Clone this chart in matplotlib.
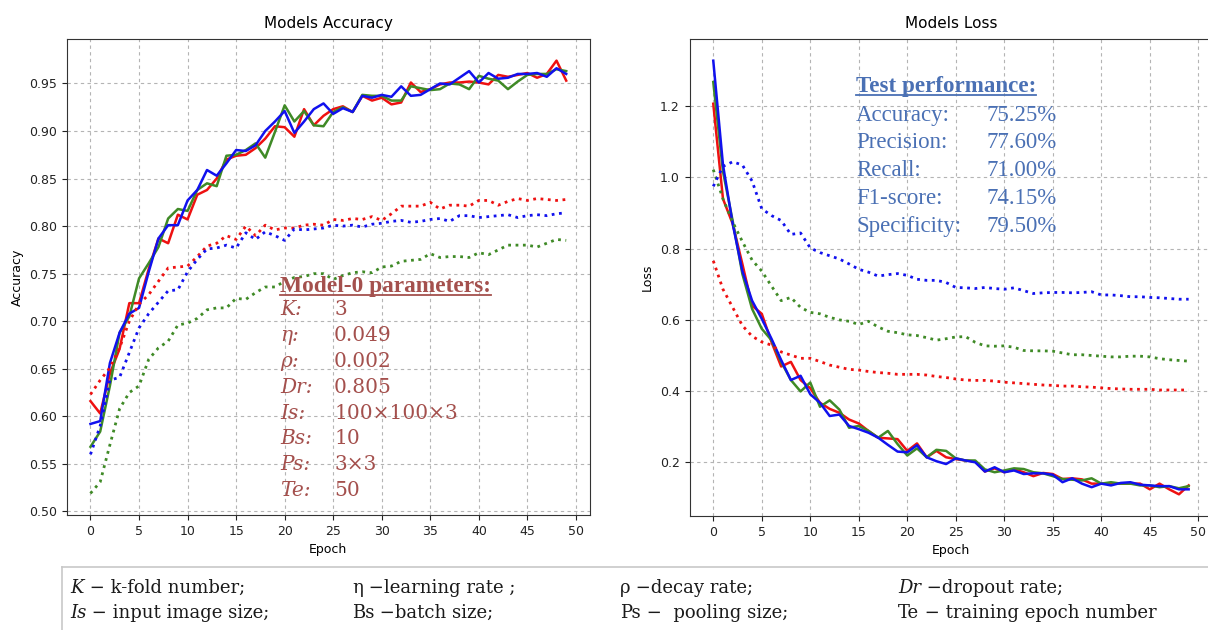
import numpy as np
import matplotlib
matplotlib.use("Agg")
import matplotlib.pyplot as plt
from matplotlib.lines import Line2D

W, H = 1208, 630

epochs = np.arange(50)

# training accuracy (solid) / validation accuracy (dotted)
acc_red = [0.616, 0.603, 0.645, 0.671, 0.719, 0.719, 0.755, 0.787, 0.782, 0.812,
           0.807, 0.833, 0.838, 0.850, 0.870, 0.874, 0.875, 0.882, 0.892, 0.905,
           0.904, 0.894, 0.923, 0.906, 0.916, 0.923, 0.926, 0.920, 0.937, 0.932,
           0.935, 0.928, 0.930, 0.951, 0.941, 0.944, 0.949, 0.951, 0.951, 0.952,
           0.951, 0.949, 0.959, 0.957, 0.959, 0.961, 0.956, 0.960, 0.974, 0.953]
acc_green = [0.568, 0.584, 0.632, 0.688, 0.705, 0.745, 0.761, 0.778, 0.808, 0.818,
             0.816, 0.838, 0.845, 0.842, 0.874, 0.875, 0.880, 0.887, 0.872, 0.899,
             0.927, 0.910, 0.921, 0.906, 0.905, 0.920, 0.925, 0.920, 0.938, 0.937,
             0.937, 0.932, 0.932, 0.947, 0.945, 0.943, 0.944, 0.950, 0.949, 0.944,
             0.958, 0.955, 0.953, 0.944, 0.952, 0.959, 0.960, 0.960, 0.965, 0.963]
acc_blue = [0.592, 0.595, 0.656, 0.688, 0.708, 0.714, 0.752, 0.787, 0.801, 0.801,
            0.827, 0.838, 0.859, 0.853, 0.866, 0.880, 0.879, 0.885, 0.900, 0.910,
            0.921, 0.898, 0.910, 0.923, 0.929, 0.918, 0.924, 0.920, 0.937, 0.935,
            0.938, 0.936, 0.947, 0.937, 0.938, 0.944, 0.950, 0.949, 0.956, 0.963,
            0.951, 0.961, 0.955, 0.956, 0.960, 0.960, 0.961, 0.957, 0.966, 0.960]
val_acc_red = [0.623, 0.638, 0.651, 0.672, 0.700, 0.718, 0.728, 0.742, 0.756, 0.757,
               0.758, 0.768, 0.779, 0.782, 0.790, 0.786, 0.800, 0.790, 0.801, 0.796,
               0.798, 0.798, 0.801, 0.802, 0.801, 0.807, 0.806, 0.808, 0.807, 0.810,
               0.806, 0.813, 0.821, 0.821, 0.821, 0.825, 0.818, 0.822, 0.822, 0.821,
               0.827, 0.827, 0.822, 0.826, 0.829, 0.827, 0.829, 0.828, 0.827, 0.828]
val_acc_green = [0.519, 0.531, 0.570, 0.608, 0.625, 0.632, 0.660, 0.672, 0.679, 0.696,
                 0.698, 0.703, 0.712, 0.714, 0.714, 0.724, 0.723, 0.730, 0.736, 0.736,
                 0.742, 0.746, 0.747, 0.750, 0.750, 0.744, 0.748, 0.751, 0.752, 0.751,
                 0.757, 0.758, 0.763, 0.764, 0.765, 0.771, 0.767, 0.768, 0.768, 0.767,
                 0.772, 0.770, 0.775, 0.780, 0.780, 0.780, 0.778, 0.782, 0.786, 0.785]
val_acc_blue = [0.560, 0.590, 0.638, 0.641, 0.667, 0.693, 0.708, 0.720, 0.732, 0.733,
                0.752, 0.765, 0.776, 0.777, 0.780, 0.777, 0.793, 0.786, 0.794, 0.790,
                0.785, 0.797, 0.796, 0.797, 0.798, 0.801, 0.800, 0.801, 0.799, 0.802,
                0.803, 0.805, 0.806, 0.804, 0.805, 0.807, 0.808, 0.805, 0.811, 0.811,
                0.809, 0.810, 0.811, 0.812, 0.809, 0.811, 0.812, 0.811, 0.813, 0.814]

# training loss (solid) / validation loss (dotted)
loss_red = [1.207, 0.940, 0.870, 0.757, 0.640, 0.617, 0.538, 0.469, 0.482, 0.431,
            0.408, 0.367, 0.350, 0.339, 0.320, 0.309, 0.288, 0.269, 0.267, 0.265,
            0.232, 0.253, 0.214, 0.232, 0.214, 0.209, 0.205, 0.202, 0.174, 0.183,
            0.172, 0.180, 0.172, 0.161, 0.170, 0.167, 0.153, 0.155, 0.152, 0.140,
            0.140, 0.140, 0.140, 0.140, 0.140, 0.124, 0.140, 0.124, 0.110, 0.135]
loss_green = [1.268, 1.017, 0.878, 0.729, 0.631, 0.575, 0.543, 0.482, 0.431, 0.399,
              0.424, 0.356, 0.374, 0.348, 0.297, 0.302, 0.288, 0.269, 0.288, 0.251,
              0.219, 0.239, 0.214, 0.235, 0.232, 0.211, 0.205, 0.205, 0.180, 0.172,
              0.177, 0.183, 0.181, 0.172, 0.169, 0.161, 0.153, 0.151, 0.149, 0.155,
              0.140, 0.144, 0.140, 0.140, 0.135, 0.135, 0.130, 0.133, 0.127, 0.133]
loss_blue = [1.328, 1.036, 0.870, 0.737, 0.654, 0.603, 0.547, 0.487, 0.431, 0.443,
             0.391, 0.367, 0.330, 0.334, 0.302, 0.293, 0.283, 0.269, 0.249, 0.230,
             0.228, 0.248, 0.214, 0.203, 0.195, 0.211, 0.205, 0.200, 0.174, 0.186,
             0.172, 0.177, 0.167, 0.169, 0.169, 0.165, 0.144, 0.155, 0.140, 0.130,
             0.140, 0.135, 0.142, 0.144, 0.137, 0.135, 0.133, 0.133, 0.124, 0.124]
val_loss_red = [0.766, 0.686, 0.635, 0.584, 0.554, 0.538, 0.529, 0.510, 0.501, 0.492,
                0.492, 0.483, 0.473, 0.467, 0.461, 0.459, 0.455, 0.452, 0.450, 0.447,
                0.447, 0.447, 0.445, 0.441, 0.438, 0.434, 0.431, 0.430, 0.430, 0.428,
                0.425, 0.423, 0.421, 0.419, 0.417, 0.416, 0.414, 0.414, 0.412, 0.411,
                0.409, 0.407, 0.406, 0.405, 0.405, 0.405, 0.403, 0.403, 0.403, 0.403]
val_loss_green = [1.022, 0.940, 0.875, 0.820, 0.768, 0.737, 0.695, 0.654, 0.663, 0.635,
                  0.621, 0.617, 0.607, 0.600, 0.596, 0.587, 0.596, 0.580, 0.568, 0.564,
                  0.558, 0.556, 0.550, 0.543, 0.547, 0.552, 0.553, 0.537, 0.527, 0.526,
                  0.527, 0.523, 0.514, 0.513, 0.513, 0.512, 0.507, 0.502, 0.502, 0.500,
                  0.498, 0.496, 0.496, 0.498, 0.498, 0.496, 0.491, 0.488, 0.486, 0.484]
val_loss_blue = [0.975, 1.031, 1.044, 1.035, 0.990, 0.912, 0.893, 0.879, 0.840, 0.844,
                 0.802, 0.789, 0.780, 0.771, 0.757, 0.742, 0.734, 0.723, 0.727, 0.730,
                 0.725, 0.714, 0.711, 0.711, 0.705, 0.691, 0.690, 0.688, 0.691, 0.688,
                 0.686, 0.690, 0.682, 0.674, 0.676, 0.677, 0.677, 0.676, 0.677, 0.679,
                 0.670, 0.670, 0.668, 0.665, 0.665, 0.663, 0.662, 0.660, 0.658, 0.658]

param_labels = ["K:", "η:", "ρ:", "Dr:", "Is:", "Bs:", "Ps:", "Te:"]
param_values = ["3", "0.049", "0.002", "0.805", "100×100×3", "10", "3×3", "50"]

test_labels = ["Accuracy:", "Precision:", "Recall:", "F1-score:", "Specificity:"]
test_values = ["75.25%", "77.60%", "71.00%", "74.15%", "79.50%"]

legend_rows = [
    [("K", True, " − k-fold number;"), ("η", False, " −learning rate ;"),
     ("ρ", False, " −decay rate;"), ("Dr", True, " −dropout rate;")],
    [("Is", True, " − input image size;"), ("Bs", False, " −batch size;"),
     ("Ps", False, " −  pooling size;"), ("Te", False, " − training epoch number")],
]

RED, GREEN, BLUE = "#ee1111", "#3f8a26", "#1111ee"
PARAM_C = "#a4504d"
TEST_C = "#4a70b4"


def fx(x):
    return x / W


def fy(y):
    return 1 - y / H


def style_axes(ax, title, ylabel):
    ax.grid(True, linestyle=(0, (3, 3)), color="#b4b4b4", lw=0.8)
    ax.set_axisbelow(True)
    ax.set_title(title, fontsize=11, pad=8)
    ax.set_xlabel("Epoch", fontsize=9)
    ax.set_ylabel(ylabel, fontsize=9)
    ax.tick_params(labelsize=9, colors="#222222")
    ax.set_xticks(np.arange(0, 51, 5))
    for s in ax.spines.values():
        s.set_color("#333333")


fig = plt.figure(figsize=(W / 100, H / 100), dpi=100)

ax1 = fig.add_axes([fx(66.7), fy(515), fx(590 - 66.7), (515 - 39) / H])
ax1.plot(epochs, acc_red, color=RED, lw=1.8)
ax1.plot(epochs, acc_green, color=GREEN, lw=1.8)
ax1.plot(epochs, acc_blue, color=BLUE, lw=1.8)
ax1.plot(epochs, val_acc_red, color=RED, lw=2, ls=":")
ax1.plot(epochs, val_acc_green, color=GREEN, lw=2, ls=":")
ax1.plot(epochs, val_acc_blue, color=BLUE, lw=2, ls=":")
style_axes(ax1, "Models Accuracy", "Accuracy")
ax1.set_yticks(np.arange(0.50, 0.951, 0.05))
ax1.yaxis.set_major_formatter(matplotlib.ticker.FormatStrFormatter("%.2f"))

ax2 = fig.add_axes([fx(689.5), fy(516), fx(1212.4 - 689.5), (516 - 39) / H])
ax2.plot(epochs, loss_red, color=RED, lw=1.8)
ax2.plot(epochs, loss_green, color=GREEN, lw=1.8)
ax2.plot(epochs, loss_blue, color=BLUE, lw=1.8)
ax2.plot(epochs, val_loss_red, color=RED, lw=2, ls=":")
ax2.plot(epochs, val_loss_green, color=GREEN, lw=2, ls=":")
ax2.plot(epochs, val_loss_blue, color=BLUE, lw=2, ls=":")
style_axes(ax2, "Models Loss", "Loss")
ax2.set_yticks(np.arange(0.2, 1.21, 0.2))

# parameter block on the accuracy plot
hdr1 = fig.text(fx(280), fy(291.7), "Model-0 parameters:", color=PARAM_C,
                fontsize=16.8, fontweight="bold", family="Liberation Serif",
                va="baseline")
for i, (lab, val) in enumerate(zip(param_labels, param_values)):
    yb = 315 + i * 25.9
    fig.text(fx(280), fy(yb), lab, color=PARAM_C, fontsize=14.5,
             family="DejaVu Serif", style="italic", va="baseline")
    fig.text(fx(334), fy(yb), val, color=PARAM_C, fontsize=14.5,
             family="DejaVu Serif", va="baseline")

# test performance block on the loss plot
hdr2 = fig.text(fx(856), fy(91.7), "Test performance:", color=TEST_C,
                fontsize=16.6, fontweight="bold", family="Liberation Serif",
                va="baseline")
for i, (lab, val) in enumerate(zip(test_labels, test_values)):
    yb = 120.7 + i * 27.75
    fig.text(fx(856), fy(yb), lab, color=TEST_C, fontsize=16.5,
             family="Liberation Serif", va="baseline")
    fig.text(fx(986), fy(yb), val, color=TEST_C, fontsize=16.5,
             family="Liberation Serif", va="baseline")

# abbreviations box under the plots
fig.add_artist(Line2D([fx(62), 1.0], [fy(567), fy(567)], color="#c8c8c8", lw=1.2))
fig.add_artist(Line2D([fx(62), fx(62)], [fy(567), 0.0], color="#c8c8c8", lw=1.2))
col_x = [70, 352, 620, 898]
row_y = [593, 618]
fig.canvas.draw()
renderer = fig.canvas.get_renderer()
for r, row in enumerate(legend_rows):
    for c, (sym, ital, rest) in enumerate(row):
        t = fig.text(fx(col_x[c]), fy(row_y[r]), sym, fontsize=13,
                     family="DejaVu Serif", style="italic" if ital else "normal",
                     color="#1a1a1a", va="baseline")
        bb = t.get_window_extent(renderer)
        fig.text(bb.x1 / W, fy(row_y[r]), rest, fontsize=13,
                 family="DejaVu Serif", color="#1a1a1a", va="baseline")

# underline the two headers
for hdr, col, yb in [(hdr1, PARAM_C, 291.7), (hdr2, TEST_C, 91.7)]:
    bb = hdr.get_window_extent(renderer)
    fig.add_artist(Line2D([bb.x0 / W, bb.x1 / W], [fy(yb + 3), fy(yb + 3)],
                          color=col, lw=1.3))

fig.savefig("out.png", dpi=100)
